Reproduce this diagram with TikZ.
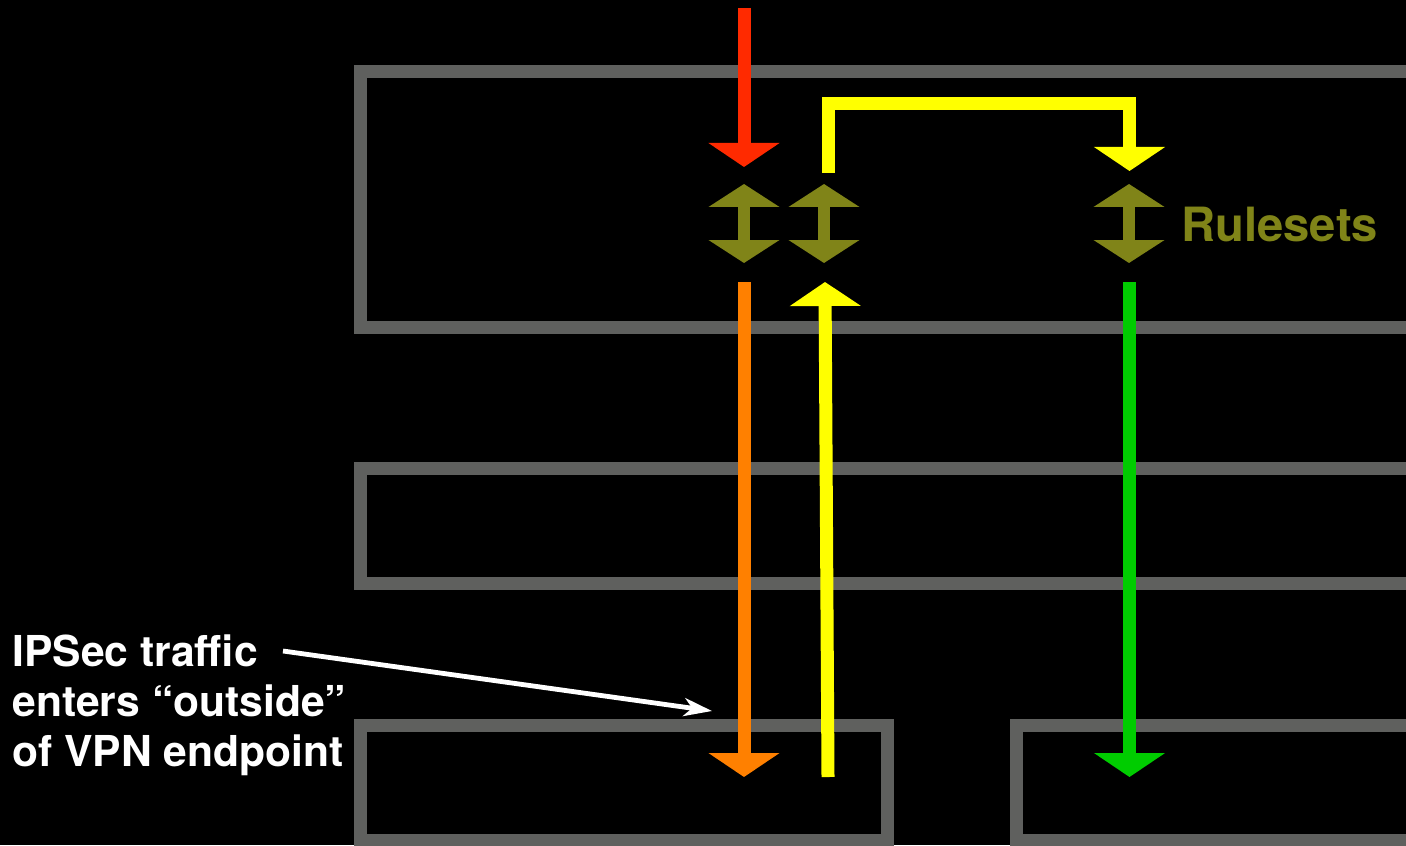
\documentclass[tikz,border=0pt]{standalone}
\usepackage{fontspec}
\setmainfont{TeX Gyre Heros}
\usetikzlibrary{arrows.meta}

\definecolor{zonegray}{HTML}{5F605E}
\definecolor{rulered}{HTML}{FF2A00}
\definecolor{ruleorange}{HTML}{FF8000}
\definecolor{ruleyellow}{HTML}{FFFF00}
\definecolor{rulegreen}{HTML}{00CC00}
\definecolor{ruleolive}{HTML}{808418}

\tikzset{
    zone/.style={draw=zonegray, line width=6.5pt},
    flow/.style={line width=6.5pt, -{Triangle[width=35pt,length=12pt]}},
    ruleset/.style={draw=ruleolive, line width=6pt,
        {Triangle[width=35pt,length=11.5pt]}-{Triangle[width=35pt,length=11.5pt]}},
}

\begin{document}
\begin{tikzpicture}[x=0.5pt, y=-0.5pt]
    \fill[black] (0,0) rectangle (1406,845);
    \clip (0,0) rectangle (1406,845);

    % zones, running off the right edge
    \draw[zone] (360,72) rectangle (1500,327);
    \draw[zone] (360,468.5) rectangle (1500,583.5);
    \draw[zone] (360,725) rectangle (887,840);
    \draw[zone] (1016,725) rectangle (1500,840);

    % rulesets
    \coordinate (rs1 in) at (744,184);  \coordinate (rs1 out) at (744,263);
    \coordinate (rs2 in) at (824,184);  \coordinate (rs2 out) at (824,263);
    \coordinate (rs3 in) at (1129,184); \coordinate (rs3 out) at (1129,263);
    \draw[ruleset] (rs1 in) -- (rs1 out);
    \draw[ruleset] (rs2 in) -- (rs2 out);
    \draw[ruleset] (rs3 in) -- (rs3 out);
    \node[anchor=base west, inner sep=0pt, text=ruleolive,
        font=\fontsize{23.6}{27}\selectfont\bfseries] (rules) at (1181,242) {Rulesets};

    % traffic
    \coordinate (red src) at (744,8);     \coordinate (red dst) at (744,167);
    \coordinate (org src) at (744,282);   \coordinate (org dst) at (744,777);
    \coordinate (yel src) at (828,777);   \coordinate (yel dst) at (825,282);
    \coordinate (loop src) at (828,173);  \coordinate (loop dst) at (1129.5,171);
    \coordinate (grn src) at (1129.5,282); \coordinate (grn dst) at (1129.5,777);
    \draw[flow, rulered] (red src) -- (red dst);
    \draw[flow, ruleorange] (org src) -- (org dst);
    \draw[flow, ruleyellow] (yel src) -- (yel dst);
    \draw[flow, ruleyellow, line join=miter] (loop src) |- (1129.5,104) -- (loop dst);
    \draw[flow, rulegreen] (grn src) -- (grn dst);

    % callout
    \node[anchor=north west, inner sep=0pt, align=left, text=white,
        font=\fontsize{21.3}{25}\selectfont\bfseries] (ipsec) at (12,634)
        {IPSec traffic\\enters “outside”\\of VPN endpoint};
    \coordinate (note src) at (283,651);
    \coordinate (note dst) at (712,711);
    \draw[white, line width=2.4pt, -{Stealth[length=14pt,width=9pt,inset=4pt]}] (note src) -- (note dst);
\end{tikzpicture}
\end{document}
